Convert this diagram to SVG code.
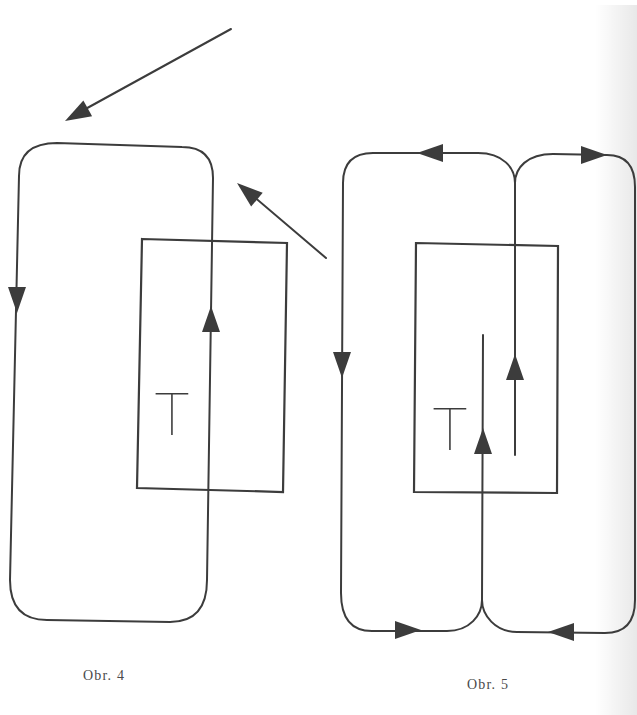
<svg xmlns="http://www.w3.org/2000/svg" width="637" height="715" viewBox="0 0 637 715">
<style>
.ln{fill:none;stroke:#3c3c3c;stroke-width:2;stroke-linejoin:round;stroke-linecap:round}
.box{fill:none;stroke:#3c3c3c;stroke-width:2.2;stroke-linejoin:miter}
.ah{fill:#3c3c3c}
.t{font-family:Roboto,"Open Sans","Liberation Sans",sans-serif;font-weight:100;font-size:60px;fill:#3c3c3c;text-anchor:middle}
.cap{font-family:"Liberation Serif","DejaVu Serif",serif;font-size:14px;fill:#4a4a4a;letter-spacing:1.2px}
</style>
<defs>
<path id="ah" d="M0,0 L-26,-9 L-26,9 Z"/>
<linearGradient id="edge" x1="0" y1="0" x2="1" y2="0">
<stop offset="0" stop-color="#000" stop-opacity="0"/>
<stop offset="1" stop-color="#000" stop-opacity="0.09"/>
</linearGradient>
</defs>
<rect width="637" height="715" fill="#fff"/>
<rect x="595" y="5" width="42" height="710" fill="url(#edge)"/>

<g id="fig4-box">
<polygon class="box" points="142,239 287,243 283,492 137,488"/>
<text class="t" x="172" y="435">T</text>
</g>
<g id="fig5-box">
<polygon class="box" points="416,243 558,246 557,493 414,492"/>
<text class="t" x="450" y="450">T</text>
</g>

<g id="connectors">
<!-- Obr. 4 -->
<line class="ln" x1="231" y1="29" x2="80" y2="112"/>
<use href="#ah" class="ah" transform="translate(65,121) rotate(151)"/>
<line class="ln" x1="326" y1="258" x2="252" y2="195"/>
<use href="#ah" class="ah" transform="translate(237,183) rotate(220)"/>
<path class="ln" d="M207,580 L213,178 Q213,147 182,147 L57,143 Q19,143 19,176 L10,580 Q10,620 47,620 L170,622 Q207,622 207,580 Z"/>
<use href="#ah" class="ah" transform="translate(17,313) rotate(90)"/>
<use href="#ah" class="ah" transform="translate(211,306) rotate(-90)"/>
<!-- Obr. 5 -->
<path class="ln" d="M343,183 Q343,153 373,153 L478,153 C503,153 515,168 515,183 C515,168 527,154 553,154 L607,155 Q635,155 635,187 L635,600 Q635,633 605,633 L517,632 C495,632 482,615 482,600 C482,615 470,631 447,631 L372,631 Q341,631 341,593 Z"/>
<line class="ln" x1="515" y1="183" x2="515" y2="455"/>
<line class="ln" x1="483" y1="335" x2="482" y2="600"/>
<use href="#ah" class="ah" transform="translate(417,153) rotate(180)"/>
<use href="#ah" class="ah" transform="translate(607,155)"/>
<use href="#ah" class="ah" transform="translate(342,378) rotate(90)"/>
<use href="#ah" class="ah" transform="translate(515,354) rotate(-90)"/>
<use href="#ah" class="ah" transform="translate(483,428) rotate(-90)"/>
<use href="#ah" class="ah" transform="translate(421,630)"/>
<use href="#ah" class="ah" transform="translate(548,632) rotate(180)"/>
</g>

<g id="captions">
<text class="cap" x="83" y="680">Obr. 4</text>
<text class="cap" x="467" y="689">Obr. 5</text>
</g>
</svg>
